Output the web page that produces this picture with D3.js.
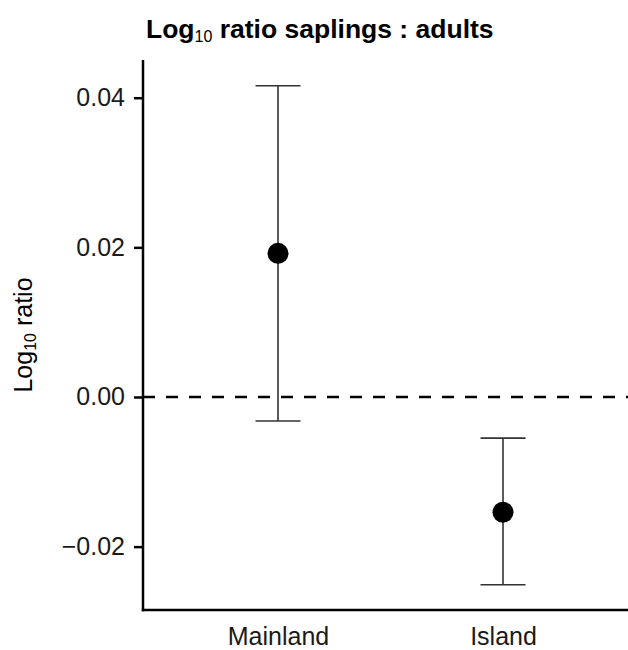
<!DOCTYPE html>
<html>
<head>
<meta charset="utf-8">
<script src="https://cdn.jsdelivr.net/npm/d3@7"></script>
<style>
  body { margin: 0; background: #fff; }
  svg { display: block; font-family: "Liberation Sans", Arial, sans-serif; }
</style>
</head>
<body>
<div id="chart"></div>
<script>
// data
var regions = ["Mainland", "Island"];
var means = [0.0192, -0.0154];
var lowers = [-0.0032, -0.0251];
var uppers = [0.0416, -0.0055];
var yTicks = [-0.02, 0.00, 0.02, 0.04];

var width = 628, height = 650;
var plotLeft = 143, plotTop = 60, plotBottom = 610;
var fontFam = "Liberation Sans, Arial, sans-serif";

var svg = d3.select("#chart").append("svg")
  .attr("width", width)
  .attr("height", height);

var x = d3.scalePoint()
  .domain(regions)
  .range([plotLeft, plotLeft + 2.2 * 225])
  .padding(0.6);

var y = d3.scaleLinear()
  .domain([-0.02847, 0.04504])
  .range([plotBottom, plotTop]);

// y axis
var yAxis = svg.append("g")
  .attr("transform", "translate(" + plotLeft + ",0)")
  .call(d3.axisLeft(y).tickValues(yTicks).tickSize(9).tickPadding(9)
    .tickFormat(function(d){ return d3.format(".2f")(d).replace("-", "\u2212"); }));
yAxis.select(".domain").remove();
yAxis.selectAll(".tick line").attr("stroke", "#000").attr("stroke-width", 2.5);
yAxis.selectAll(".tick text").attr("font-size", 25).attr("fill", "#1a1a1a")
  .attr("font-family", fontFam);

// x axis, no tick marks
var xAxis = svg.append("g")
  .attr("transform", "translate(0," + plotBottom + ")")
  .call(d3.axisBottom(x).tickSize(0).tickPadding(17));
xAxis.select(".domain").remove();
xAxis.selectAll(".tick text").attr("font-size", 25).attr("fill", "#1a1a1a")
  .attr("font-family", fontFam);

// axis lines
svg.append("line")
  .attr("x1", plotLeft).attr("x2", plotLeft)
  .attr("y1", plotTop).attr("y2", plotBottom + 1.25)
  .attr("stroke", "#000").attr("stroke-width", 2.5);
svg.append("line")
  .attr("x1", plotLeft - 1.25).attr("x2", width)
  .attr("y1", plotBottom).attr("y2", plotBottom)
  .attr("stroke", "#000").attr("stroke-width", 2.5);

// zero reference
svg.append("line")
  .attr("x1", plotLeft).attr("x2", width)
  .attr("y1", y(0)).attr("y2", y(0))
  .attr("stroke", "#000").attr("stroke-width", 2.5)
  .attr("stroke-dasharray", "12,11");

// error bars
var bars = svg.append("g").selectAll("g")
  .data(regions)
  .join("g");

bars.append("line")
  .attr("x1", function(d){ return x(d); })
  .attr("x2", function(d){ return x(d); })
  .attr("y1", function(d, i){ return y(uppers[i]); })
  .attr("y2", function(d, i){ return y(lowers[i]); })
  .attr("stroke", "#333").attr("stroke-width", 1.6);

bars.append("line")
  .attr("x1", function(d){ return x(d) - 22.5; })
  .attr("x2", function(d){ return x(d) + 22.5; })
  .attr("y1", function(d, i){ return y(uppers[i]); })
  .attr("y2", function(d, i){ return y(uppers[i]); })
  .attr("stroke", "#333").attr("stroke-width", 1.6);

bars.append("line")
  .attr("x1", function(d){ return x(d) - 22.5; })
  .attr("x2", function(d){ return x(d) + 22.5; })
  .attr("y1", function(d, i){ return y(lowers[i]); })
  .attr("y2", function(d, i){ return y(lowers[i]); })
  .attr("stroke", "#333").attr("stroke-width", 1.6);

bars.append("circle")
  .attr("cx", function(d){ return x(d); })
  .attr("cy", function(d, i){ return y(means[i]); })
  .attr("r", 10.5)
  .attr("fill", "#000");

// y label
var ylab = svg.append("text")
  .attr("transform", "translate(32," + ((plotTop + plotBottom) / 2) + ") rotate(-90)")
  .attr("text-anchor", "middle")
  .attr("font-size", 25)
  .attr("fill", "#000");
ylab.append("tspan").text("Log");
ylab.append("tspan").attr("font-size", 16).attr("dy", 4).text("10");
ylab.append("tspan").attr("dy", -4).text(" ratio");

// title
var title = svg.append("text")
  .attr("x", 146).attr("y", 38)
  .attr("font-size", 26.5)
  .attr("font-weight", "bold")
  .attr("fill", "#000");
title.append("tspan").text("Log");
title.append("tspan").attr("font-size", 16).attr("font-weight", "normal").attr("dy", 3.5).text("10");
title.append("tspan").attr("dy", -3.5).text(" ratio saplings : adults");
</script>
</body>
</html>
